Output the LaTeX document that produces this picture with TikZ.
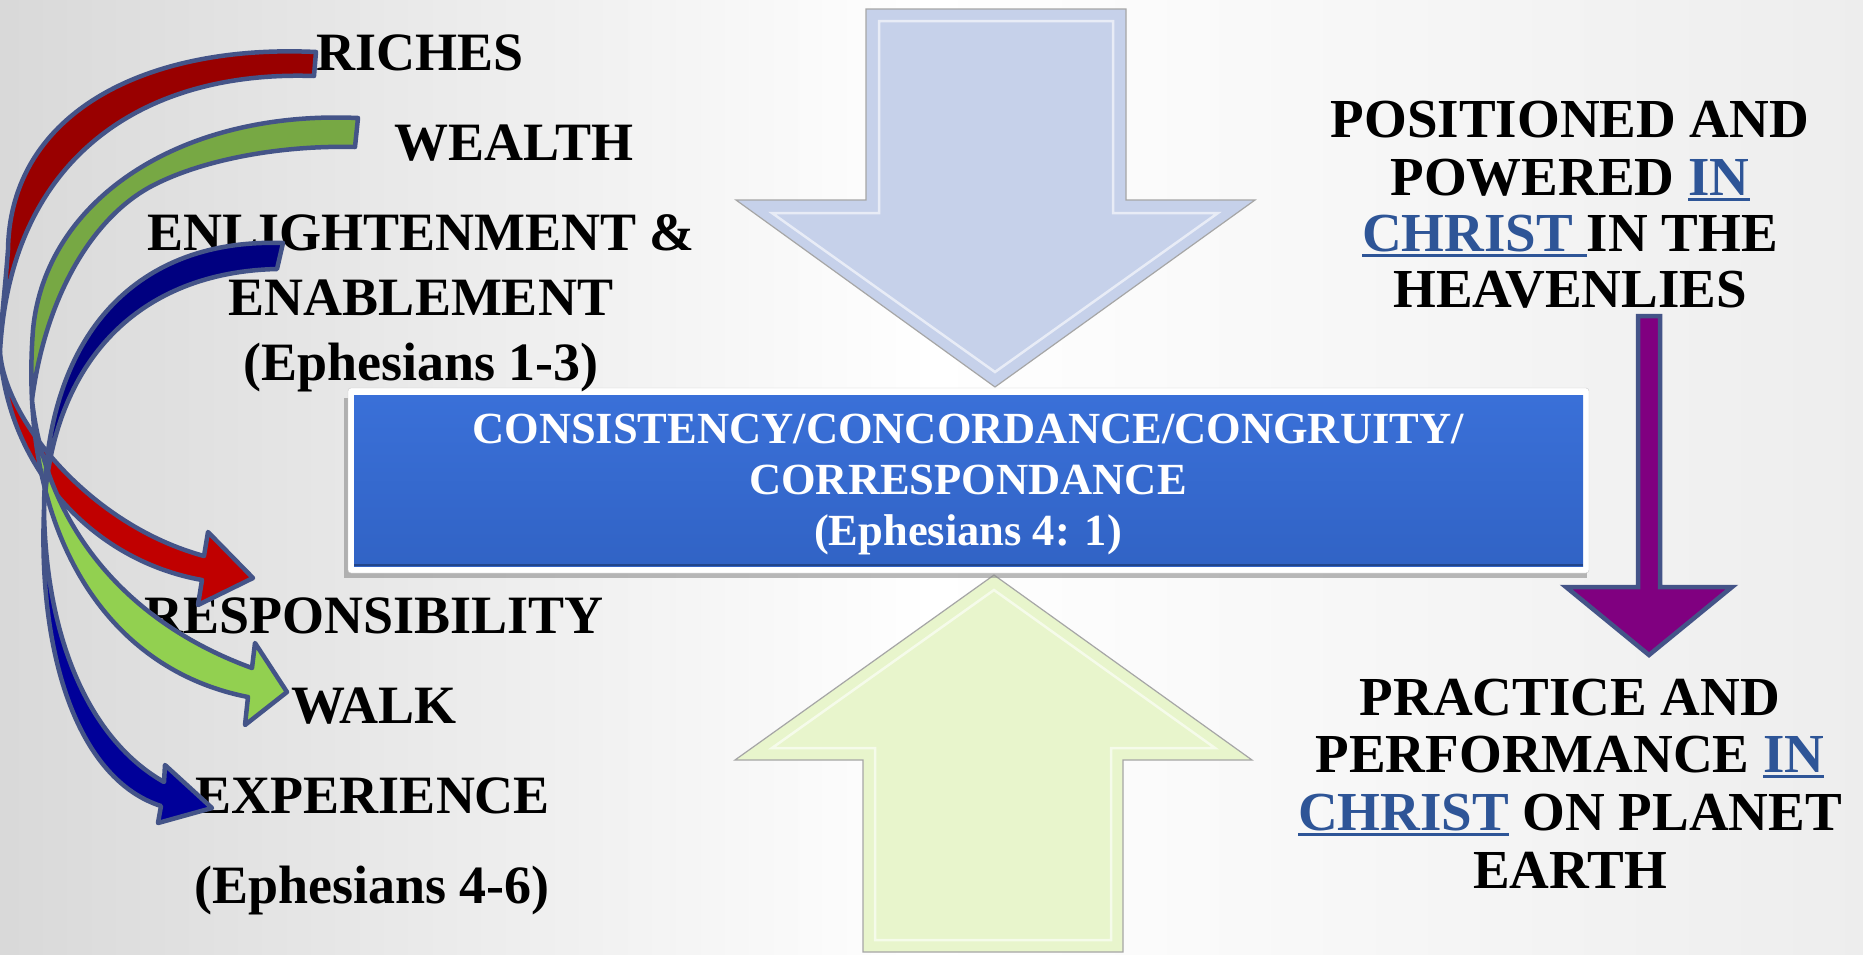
\documentclass[tikz,border=0pt]{standalone}
\usepackage{fontspec}
\setmainfont{Liberation Serif}
\usetikzlibrary{calc}
\definecolor{ribline}{RGB}{68,84,136}
\definecolor{redback}{RGB}{153,0,0}
\definecolor{redfront}{RGB}{192,0,0}
\definecolor{grnback}{RGB}{119,168,68}
\definecolor{grnfront}{RGB}{146,208,80}
\definecolor{navback}{RGB}{0,0,128}
\definecolor{navfront}{RGB}{0,0,153}
\definecolor{boxblue}{RGB}{49,99,197}
\definecolor{boxtop}{RGB}{58,112,216}
\definecolor{downfill}{RGB}{198,209,234}
\definecolor{upfill}{RGB}{232,245,204}
\definecolor{linkblue}{RGB}{46,85,151}
\definecolor{purfill}{RGB}{128,0,128}
\newcommand\inchrist[1]{{\color{linkblue}\setbox0\hbox{#1}\rlap{\rule[-6pt]{\wd0}{2.6pt}}\box0}}
\tikzset{lbl/.style={anchor=base,inner sep=0pt,font=\fontsize{54}{60}\selectfont\bfseries},
  rlbl/.style={lbl,font=\fontsize{55}{60}\selectfont\bfseries},
  boxlbl/.style={lbl,font=\fontsize{44.5}{51}\selectfont\bfseries,text=white},
  ribbon/.style={draw=ribline,line width=4.5pt,line join=round},
  bigarrow/.style={line width=1.2pt,line join=miter},
  bevel/.style={white,line width=2.5pt,opacity=.6}}

\begin{document}
\begin{tikzpicture}[x=1pt,y=-1pt]
\useasboundingbox (0,0) rectangle (1863,954);
\shade[left color=black!15,right color=black!7,middle color=white] (0,0) rectangle (1863,954);

\filldraw[bigarrow,fill=downfill,draw=black!35] (866,9) -- (1126,9) -- (1126,200) -- (1255,200) -- (995,387) -- (736,200) -- (866,200) -- cycle;
\draw[bevel] (879,21) -- (1113,21) -- (1113,213) -- (1218,213) -- (995,372) -- (772,213) -- (879,213) -- cycle;
\filldraw[bigarrow,fill=upfill,draw=black!35] (994,575) -- (1252,760) -- (1123,760) -- (1123,952) -- (863,952) -- (863,760) -- (735,760) -- cycle;
\draw[bevel] (994,590) -- (1215,748) -- (1111,748) -- (1111,940) -- (875,940) -- (875,748) -- (772,748) -- cycle;

\fill[black!45,opacity=.6] (344,398) rectangle (1587,578);
\filldraw[fill=white,draw=black!20,rounded corners=3pt] (348,388) rectangle (1589,573);
\shade[top color=boxtop,bottom color=boxblue] (354,395) rectangle (1583,566);
\draw[boxblue!70!black,line width=2pt] (354,565) -- (1583,565);
\node[boxlbl] (boxA) at (968,443) {CONSISTENCY/CONCORDANCE/CONGRUITY/};
\node[boxlbl] (boxB) at (968,494) {CORRESPONDANCE};
\node[boxlbl] (boxC) at (968,545) {(Ephesians 4: 1)};

\node[lbl] (riches) at (420,70) {RICHES};
\node[lbl] (wealth) at (514,160) {WEALTH};
\node[lbl] (enlight) at (421,250) {ENLIGHTENMENT \&};
\node[lbl] (enable) at (421,315) {ENABLEMENT};
\node[lbl] (ephA) at (421,380) {(Ephesians 1-3)};
\node[lbl] (respons) at (374,633) {RESPONSIBILITY};
\node[lbl] (walk) at (374,723) {WALK};
\node[lbl] (exper) at (373,813) {EXPERIENCE};
\node[lbl] (ephB) at (372,903) {(Ephesians 4-6)};

\node[rlbl] (heavA) at (1570,137) {POSITIONED AND};
\node[rlbl] (heavB) at (1570,195) {POWERED \inchrist{IN}};
\node[rlbl] (heavC) at (1570,251) {\inchrist{CHRIST\ }IN THE};
\node[rlbl] (heavD) at (1570,307) {HEAVENLIES};
\node[rlbl] (earthA) at (1570,715) {PRACTICE AND};
\node[rlbl] (earthB) at (1570,772) {PERFORMANCE \inchrist{IN}};
\node[rlbl] (earthC) at (1570,830) {\inchrist{CHRIST} ON PLANET};
\node[rlbl] (earthD) at (1570,888) {EARTH};

\coordinate (purtop) at (1649,316);
\coordinate (purtip) at (1649,655);
\filldraw[ribbon,fill=purfill,line join=miter] ($(purtop)+(-11,0)$) -- ($(purtop)+(11,0)$) -- ($(purtip)+(11,-68)$) -- ($(purtip)+(83,-68)$) -- (purtip) -- ($(purtip)+(-83,-68)$) -- ($(purtip)+(-11,-68)$) -- cycle;

\filldraw[ribbon,fill=redback] (316,52) .. controls (150,44) and (10,110) .. (8,250) .. controls (5,290) and (1,320) .. (0,352) .. controls (10,160) and (140,70) .. (314,76) -- cycle;
\filldraw[ribbon,fill=redfront] (0,352) .. controls (5,420) and (90,525) .. (204,556) -- (208,532) -- (253,578) -- (198,605) -- (202,580) .. controls (90,560) and (8,465) .. (0,352) -- cycle;
\filldraw[ribbon,fill=grnback] (358,118) .. controls (180,110) and (45,200) .. (33,330) .. controls (31,355) and (31,380) .. (32,400) .. controls (45,300) and (90,220) .. (150,187) .. controls (200,160) and (280,145) .. (355,147) -- cycle;
\filldraw[ribbon,fill=grnfront] (32,400) .. controls (45,520) and (120,620) .. (252,668) -- (255,643) -- (287,692) -- (245,725) -- (248,697) .. controls (120,672) and (40,560) .. (32,400) -- cycle;
\filldraw[ribbon,fill=navback] (283,243) .. controls (140,238) and (45,330) .. (44,510) .. controls (52,360) and (140,272) .. (277,269) -- cycle;
\filldraw[ribbon,fill=navfront] (44,510) .. controls (46,640) and (90,740) .. (164,782) -- (165,765) -- (212,808) -- (158,823) -- (161,806) .. controls (80,780) and (38,660) .. (44,510) -- cycle;
\end{tikzpicture}
\end{document}
